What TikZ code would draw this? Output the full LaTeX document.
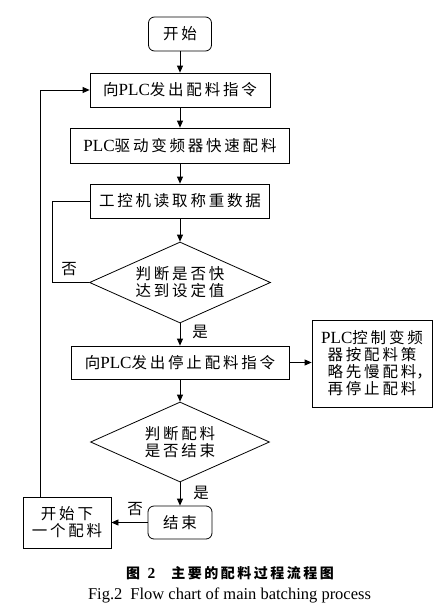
\documentclass[tikz,border=0pt]{standalone}
\usepackage{fontspec}
\setmainfont{Liberation Serif}[Scale=1.1]
\newfontfamily\cjk[LetterSpace=18]{Noto Sans CJK SC}
\newcommand\zh[1]{{\cjk #1}}
\usetikzlibrary{shapes.geometric,arrows.meta}

\begin{document}
\begin{tikzpicture}[x=1pt,y=-1pt,
    every node/.style={font=\fontsize{15.5}{17}\selectfont, inner sep=0pt},
    box/.style={draw, line width=0.8pt, align=center},
    term/.style={box, rounded corners=6pt},
    dec/.style={draw, line width=0.8pt, diamond, aspect=2.2, align=center},
    flow/.style={line width=0.8pt, -{Triangle[length=7pt,width=6pt]}},
    link/.style={line width=0.8pt}]
  \useasboundingbox (0,0) rectangle (446,613);
  \node[term, minimum width=63, minimum height=34] (start) at (180,34) {\zh{开始}};
  \node[box, minimum width=180, minimum height=34] (order) at (180,90) {\zh{向}PLC\zh{发出配料指令}};
  \node[box, minimum width=219, minimum height=35] (fast) at (180,145.5) {PLC\zh{驱动变频器快速配料}};
  \node[box, minimum width=179, minimum height=34] (read) at (180,201) {\zh{工控机读取称重数据}};
  \node[dec, minimum width=181, minimum height=81] (near) at (180,282.5) {\zh{判断是否快}\\\zh{达到设定值}};
  \node[box, minimum width=218, minimum height=33] (stop) at (180,362.5) {\zh{向}PLC\zh{发出停止配料指令}};
  \node[box, minimum width=120, minimum height=87] (slow) at (372,363.5) {PLC\zh{控制变频}\\\zh{器按配料策}\\\zh{略先慢配料}\rlap{\zh{，}}\\\zh{再停止配料}};
  \node[dec, minimum width=179, minimum height=80] (done) at (180,442) {\zh{判断配料}\\\zh{是否结束}};
  \node[term, minimum width=64, minimum height=33] (end) at (180,522.5) {\zh{结束}};
  \node[box, minimum width=88, minimum height=51] (next) at (67,522.5) {\zh{开始下}\\\zh{一个配料}};
  \node (yes1) at (200,332) {\zh{是}};
  \node (yes2) at (201,493) {\zh{是}};
  \node (no1) at (69,269) {\zh{否}};
  \node (no2) at (135,509) {\zh{否}};
  \coordinate (loop) at (40,0);
  \draw[flow] (start) -- (order);
  \draw[flow] (order) -- (fast);
  \draw[flow] (fast) -- (read);
  \draw[flow] (read) -- (near);
  \draw[flow] (near) -- (stop);
  \draw[flow] (stop.east) -- (stop.east -| slow.west);
  \draw[flow] (stop) -- (done);
  \draw[flow] (done) -- (end);
  \draw[flow] (end.west) -- (end.west -| next.east);
  \draw[link] (near.west) -- ++(-37,0) |- (read.west);
  \draw[flow] (next.north -| loop) |- (order.west);
  \node[font=\fontsize{14}{16}\selectfont] (cap) at (230,573) {{\cjk\bfseries 图}\hspace{5pt}\textbf{2}\hspace{16pt}{\cjk\bfseries 主要的配料过程流程图}};
  \node[font=\fontsize{15}{18}\selectfont] (capen) at (229.5,595) {Fig.2\hspace{8pt}Flow chart of main batching process};
\end{tikzpicture}
\end{document}
